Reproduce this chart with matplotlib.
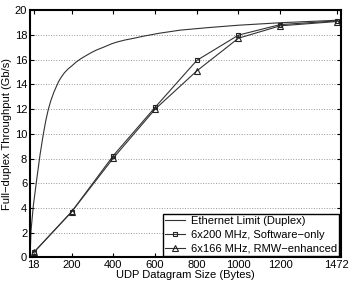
import matplotlib
matplotlib.use("Agg")
import matplotlib.pyplot as plt

plt.rcParams['font.family'] = ['Liberation Sans', 'DejaVu Sans']

# Ethernet limit
eth_x = [0, 5, 16, 32, 48, 64, 76, 88, 100, 115, 136, 150, 165, 182, 200, 220,
         245, 270, 296, 320, 350, 392, 420, 455, 500, 540, 620, 720, 850, 1000,
         1200, 1472]
eth_y = [0, 2.2, 4.2, 6.3, 8.3, 10.0, 11.1, 12.0, 12.7, 13.4, 14.2, 14.6, 14.95,
         15.25, 15.5, 15.8, 16.1, 16.35, 16.6, 16.8, 17.0, 17.3, 17.45, 17.6,
         17.75, 17.9, 18.15, 18.4, 18.6, 18.8, 19.0, 19.2]

sizes = [18, 200, 400, 600, 800, 1000, 1200, 1472]
sw_only = [0.4, 3.7, 8.25, 12.15, 15.95, 18.0, 18.85, 19.15]
rmw = [0.4, 3.7, 8.05, 12.0, 15.1, 17.75, 18.75, 19.1]

xticks = [18, 200, 400, 600, 800, 1000, 1200, 1472]

fig = plt.figure(figsize=(3.49, 2.81), dpi=100)
ax = fig.add_axes([0.086, 0.084, 0.890, 0.879])

ax.plot(eth_x, eth_y, color='#333333', lw=0.8, label='Ethernet Limit (Duplex)')
ax.plot(sizes, sw_only, color='#333333', lw=0.8, marker='s', ms=3.5,
        mfc='none', mec='#222222', mew=0.8, label='6x200 MHz, Software\u2212only')
ax.plot(sizes, rmw, color='#333333', lw=0.8, marker='^', ms=4,
        mfc='none', mec='#222222', mew=0.8, label='6x166 MHz, RMW\u2212enhanced')

ax.set_xlim(0, 1490)
ax.set_ylim(0, 20)
ax.set_xticks(xticks)
ax.set_yticks(range(0, 21, 2))
ax.tick_params(direction='in', top=True, right=True, labelsize=8, length=3,
               width=0.8, pad=2)
ax.yaxis.grid(True, linestyle=':', color='#999999', lw=0.7)
for s in ax.spines.values():
    s.set_linewidth(1.5)

ax.set_xlabel('UDP Datagram Size (Bytes)', fontsize=8, labelpad=0)
ax.set_ylabel('Full\u2212duplex Throughput (Gb/s)', fontsize=8, labelpad=2)

leg = ax.legend(loc='lower right', fontsize=8, fancybox=False, framealpha=1,
                edgecolor='black', handlelength=1.8, borderpad=0.2,
                labelspacing=0.35, handletextpad=0.5, borderaxespad=0.15)
leg.get_frame().set_linewidth(1.0)

fig.savefig('out.png', dpi=100)
